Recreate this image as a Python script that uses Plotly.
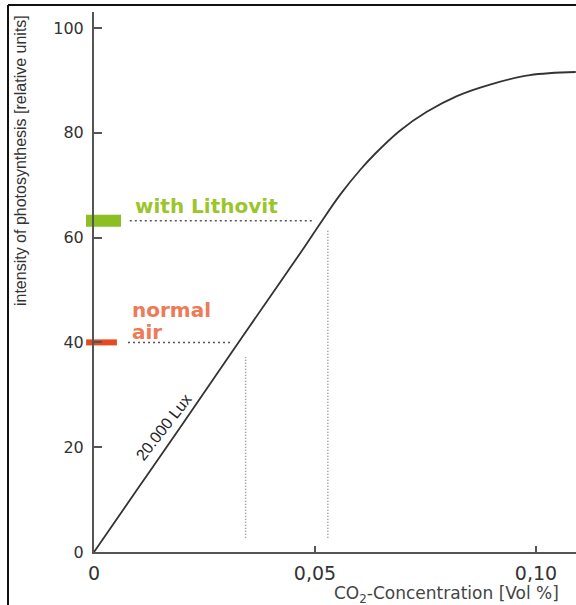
import plotly.graph_objects as go

# Photosynthesis curve (CO2 concentration [Vol %] vs intensity [relative units])
curve_x = [0, 0.010, 0.020, 0.030, 0.040, 0.0477, 0.0511, 0.0557, 0.0602, 0.0636,
           0.0692, 0.0753, 0.0821, 0.0896, 0.0986, 0.1090]
curve_y = [0, 12.2, 24.4, 36.7, 48.9, 58.3, 62.6, 68.2, 72.9, 76.0,
           80.4, 84.0, 87.0, 89.2, 91.0, 91.6]

# Reference levels
normal_level = 40.0
normal_co2 = 0.0343
normal_hline_x = [0.0077, 0.0308]
normal_vline_y = [2.7, 37.2]

litho_level = 63.2
litho_co2 = 0.0529
litho_hline_x = [0.0081, 0.0495]
litho_vline_y = [2.7, 61.5]

y_ticks = [0, 20, 40, 60, 80, 100]
x_ticks = [0, 0.05, 0.10]
x_ticktext = ["0", "0,05", "0,10"]

GREEN_BAR = "#8dbf22"
GREEN_TXT = "#9cc52c"
RED_BAR = "#e84a20"
RED_TXT = "#ef7a56"
FONT = "DejaVu Sans"

fig = go.Figure()

# dotted guide lines
fig.add_trace(go.Scatter(x=normal_hline_x, y=[normal_level, normal_level], mode="lines",
                         line=dict(color="#555555", width=1.5, dash="2px,3px"), hoverinfo="skip"))
fig.add_trace(go.Scatter(x=litho_hline_x, y=[litho_level, litho_level], mode="lines",
                         line=dict(color="#555555", width=1.5, dash="2px,3px"), hoverinfo="skip"))
fig.add_trace(go.Scatter(x=[normal_co2, normal_co2], y=normal_vline_y, mode="lines",
                         line=dict(color="#8a8a8a", width=1.5, dash="1px,2px"), hoverinfo="skip"))
fig.add_trace(go.Scatter(x=[litho_co2, litho_co2], y=litho_vline_y, mode="lines",
                         line=dict(color="#8a8a8a", width=1.5, dash="1px,2px"), hoverinfo="skip"))

# main curve
fig.add_trace(go.Scatter(x=curve_x, y=curve_y, mode="lines",
                         line=dict(color="#333333", width=1.8, shape="spline", smoothing=1.0),
                         hoverinfo="skip"))

# level markers on the y axis
fig.add_trace(go.Scatter(x=[0.00215], y=[litho_level], mode="markers", cliponaxis=False,
                         marker=dict(symbol="line-ew", size=25, color=GREEN_BAR,
                                     line=dict(color=GREEN_BAR, width=12)), hoverinfo="skip"))
fig.add_trace(go.Scatter(x=[0.0017], y=[normal_level], mode="markers", cliponaxis=False,
                         marker=dict(symbol="line-ew", size=22, color=RED_BAR,
                                     line=dict(color=RED_BAR, width=6)), hoverinfo="skip"))

annotations = [
    dict(x=0.0088, y=66.0, xref="x", yref="y", text="<b>with Lithovit</b>", showarrow=False,
         xanchor="left", yanchor="middle", font=dict(family=FONT, size=20, color=GREEN_TXT)),
    dict(x=0.0081, y=46.2, xref="x", yref="y", text="<b>normal</b>", showarrow=False,
         xanchor="left", yanchor="middle", font=dict(family=FONT, size=20, color=RED_TXT)),
    dict(x=0.0081, y=41.9, xref="x", yref="y", text="<b>air</b>", showarrow=False,
         xanchor="left", yanchor="middle", font=dict(family=FONT, size=20, color=RED_TXT)),
    dict(x=0.0157, y=23.8, xref="x", yref="y", text="20.000 Lux", showarrow=False,
         xanchor="center", yanchor="middle", textangle=-52,
         font=dict(family="Liberation Sans", size=16, color="#222222")),
    dict(x=-0.1535, y=0.724, xref="paper", yref="paper",
         text="intensity of photosynthesis [relative units]", showarrow=False, textangle=-90,
         xanchor="center", yanchor="middle",
         font=dict(family="Liberation Sans", size=16, color="#333333")),
    dict(x=0.732, y=-0.0785, xref="paper", yref="paper",
         text="CO<sub>2</sub>-Concentration [Vol %]", showarrow=False,
         xanchor="center", yanchor="middle",
         font=dict(family=FONT, size=17, color="#444444")),
]

shapes = [
    dict(type="line", xref="paper", yref="paper", x0=-0.1784, x1=-0.1784, y0=-0.2, y1=1.013,
         line=dict(color="#111111", width=2)),
    dict(type="line", xref="paper", yref="paper", x0=-0.1784, x1=1.1, y0=1.013, y1=1.013,
         line=dict(color="#111111", width=2)),
]

fig.update_layout(
    width=576, height=605,
    margin=dict(l=94, r=0, t=12, b=53),
    paper_bgcolor="white", plot_bgcolor="white",
    showlegend=False, hovermode=False,
    annotations=annotations, shapes=shapes,
    font=dict(family=FONT, color="#333333"),
)
fig.update_xaxes(range=[0, 0.10905], showgrid=False, zeroline=False,
                 showline=True, linecolor="#555555", linewidth=2,
                 tickvals=x_ticks, ticktext=x_ticktext, ticks="inside", ticklen=6,
                 tickcolor="#555555", tickwidth=1.5, ticklabelstandoff=3,
                 tickfont=dict(family=FONT, size=19, color="#333333"))
fig.update_yaxes(range=[0, 103.05], showgrid=False, zeroline=False,
                 showline=True, linecolor="#555555", linewidth=2,
                 tickvals=y_ticks, ticks="inside", ticklen=8,
                 tickcolor="#555555", tickwidth=1.5, ticklabelstandoff=5,
                 tickfont=dict(family=FONT, size=16, color="#333333"))

fig.write_html("out.html", config={"displayModeBar": False},
               post_script="document.body.style.margin='0';")
